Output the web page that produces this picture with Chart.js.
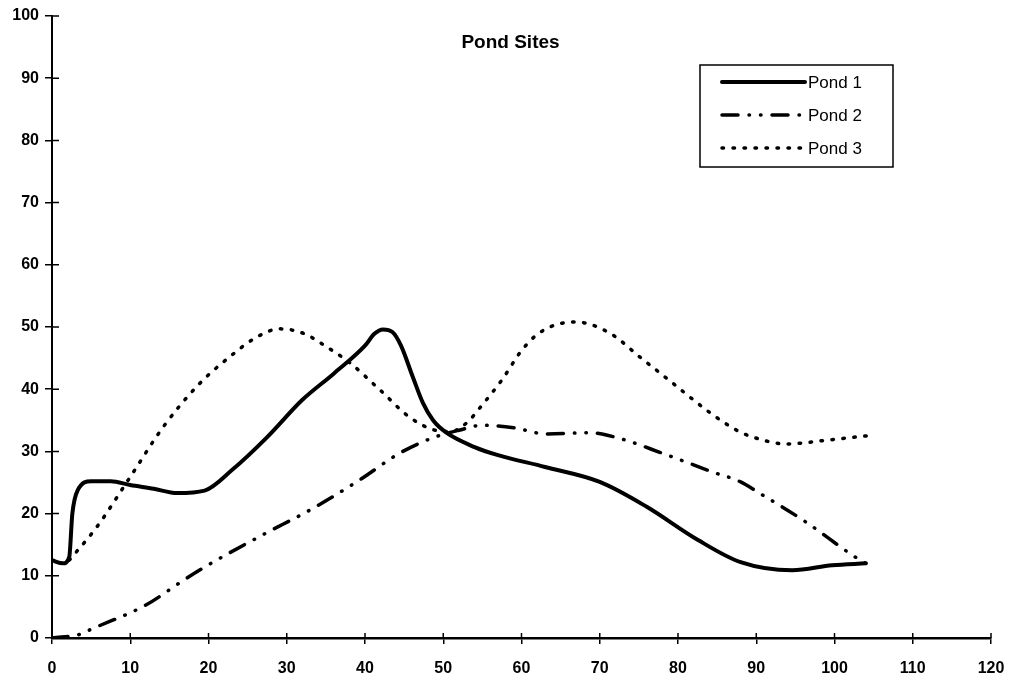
<!DOCTYPE html>
<html lang="en">
<head>
    <meta charset="UTF-8">
    <title>Pond Sites</title>
    <script src="https://cdn.jsdelivr.net/npm/chart.js"></script>
    <style>
        html, body { margin: 0; padding: 0; background: #fff; }
    </style>
</head>
<body>
    <canvas id="pondChart" width="1015" height="686"></canvas>

    <script>
        // values
        const pond1X = [0, 1.4, 2.2, 2.6, 3.3, 5, 7.5, 10, 13, 16, 19.5, 23, 27.5, 32, 36, 40, 41.2, 42.3, 43.5, 44.6, 46.1, 47.4, 48.7, 50.4, 54, 57, 63, 70, 76, 82.5, 88, 94.6, 99.7, 104];
        const pond1Y = [12.5, 12, 13, 20, 23.8, 25.2, 25.2, 24.6, 24, 23.3, 23.7, 27, 32.3, 38.3, 42.5, 47, 48.9, 49.6, 49.2, 47, 42, 37.8, 35, 33, 30.7, 29.4, 27.5, 25.1, 21.1, 15.8, 12.2, 10.9, 11.7, 12];

        const pond2X = [0, 3.6, 5, 12, 16.7, 19.5, 22.7, 27.4, 33, 39.3, 44.4, 48.7, 52, 55, 59, 63.2, 68.7, 72.5, 78, 84.4, 88, 90.4, 96.4, 102.3, 104];
        const pond2Y = [0, 0.6, 1.4, 5.3, 9.2, 11.4, 13.7, 16.9, 20.6, 25.4, 29.7, 32.2, 33.4, 34.2, 33.8, 32.8, 33, 32.1, 29.7, 26.7, 25.1, 23.3, 18.6, 13.3, 12];

        const pond3X = [2.2, 5.7, 10, 14.2, 18.7, 23, 26.2, 29.1, 32.1, 35.1, 38.1, 41.9, 45.7, 49, 51, 53, 55, 57.5, 60, 62, 64.5, 67, 71.3, 75.1, 79.3, 84, 87.5, 89.1, 93.9, 99, 104.1];
        const pond3Y = [12.5, 17.8, 25.9, 33.9, 40.7, 45.5, 48.4, 49.7, 49, 46.8, 44.2, 39.9, 35.5, 33.4, 33.2, 34.6, 37.5, 41.5, 46.2, 48.8, 50.4, 50.8, 49, 45.2, 41, 36.3, 33.4, 32.5, 31.2, 31.8, 32.5];

        const seriesNames = ['Pond 1', 'Pond 2', 'Pond 3'];
        const chartTitle = 'Pond Sites';

        function toPoints(xs, ys) {
            return xs.map((x, i) => ({ x: x, y: ys[i] }));
        }

        // cross shaped tick marks + title + boxed legend
        const extrasPlugin = {
            id: 'extras',
            afterDraw(chart) {
                const ctx = chart.ctx;
                const area = chart.chartArea;
                const xs = chart.scales.x;
                const ys = chart.scales.y;
                ctx.save();
                ctx.strokeStyle = '#000';
                ctx.lineWidth = 1.5;
                ctx.beginPath();
                xs.ticks.forEach(t => {
                    const px = xs.getPixelForValue(t.value);
                    ctx.moveTo(px, area.bottom);
                    ctx.lineTo(px, area.bottom - 5);
                });
                ys.ticks.forEach(t => {
                    const py = ys.getPixelForValue(t.value);
                    ctx.moveTo(area.left, py);
                    ctx.lineTo(area.left + 7, py);
                });
                ctx.stroke();

                // title
                ctx.fillStyle = '#000';
                ctx.font = 'bold 19px "Liberation Sans", Arial, sans-serif';
                ctx.textAlign = 'center';
                ctx.textBaseline = 'middle';
                ctx.fillText(chartTitle, (area.left + area.right) / 2 - 11, 43);

                // legend
                const bx = area.right - 291, by = 65, bw = 193, bh = 102;
                ctx.lineWidth = 1.5;
                ctx.strokeRect(bx, by, bw, bh);
                ctx.font = '17px "Liberation Sans", Arial, sans-serif';
                ctx.textAlign = 'left';
                chart.data.datasets.forEach((ds, i) => {
                    const ly = by + 17 + i * 33;
                    ctx.beginPath();
                    ctx.lineWidth = ds.borderWidth;
                    ctx.lineCap = ds.borderCapStyle || 'butt';
                    ctx.setLineDash(ds.borderDash || []);
                    ctx.moveTo(bx + 22, ly);
                    ctx.lineTo(bx + 105, ly);
                    ctx.stroke();
                    ctx.setLineDash([]);
                    ctx.fillText(ds.label, bx + 108, ly + 1);
                });
                ctx.restore();
            }
        };

        const ctx = document.getElementById('pondChart').getContext('2d');
        new Chart(ctx, {
            type: 'line',
            data: {
                datasets: [{
                    label: seriesNames[0],
                    data: toPoints(pond1X, pond1Y),
                    borderColor: '#000',
                    borderWidth: 4,
                    borderCapStyle: 'round'
                }, {
                    label: seriesNames[1],
                    data: toPoints(pond2X, pond2Y),
                    borderColor: '#000',
                    borderWidth: 3.5,
                    borderCapStyle: 'round',
                    borderDash: [16, 11, 0.5, 11, 0.5, 11]
                }, {
                    label: seriesNames[2],
                    data: toPoints(pond3X, pond3Y),
                    borderColor: '#000',
                    borderWidth: 3.5,
                    borderCapStyle: 'round',
                    borderDash: [1.5, 9.5]
                }]
            },
            options: {
                responsive: false,
                animation: false,
                layout: { padding: { top: 16, right: 24, bottom: 0, left: 0 } },
                elements: {
                    point: { radius: 0 },
                    line: { cubicInterpolationMode: 'monotone', fill: false }
                },
                plugins: {
                    legend: { display: false },
                    title: { display: false },
                    tooltip: { enabled: false }
                },
                scales: {
                    x: {
                        type: 'linear',
                        min: 0,
                        max: 120,
                        afterFit(scale) { scale.height = 48; },
                        ticks: {
                            stepSize: 10,
                            color: '#000',
                            padding: 6,
                            font: { family: '"Liberation Sans", Arial, sans-serif', size: 16, weight: 'bold', lineHeight: 2.3 }
                        },
                        grid: { drawOnChartArea: false, color: '#000', tickLength: 6, lineWidth: 1.5 },
                        border: { color: '#000', width: 2.5 }
                    },
                    y: {
                        min: 0,
                        max: 100,
                        afterFit(scale) { scale.width = 52; },
                        ticks: {
                            stepSize: 10,
                            color: '#000',
                            padding: 6,
                            font: { family: '"Liberation Sans", Arial, sans-serif', size: 16, weight: 'bold' }
                        },
                        grid: { drawOnChartArea: false, color: '#000', tickLength: 7, lineWidth: 1.5 },
                        border: { color: '#000', width: 2 }
                    }
                }
            },
            plugins: [extrasPlugin]
        });
    </script>
</body>
</html>
